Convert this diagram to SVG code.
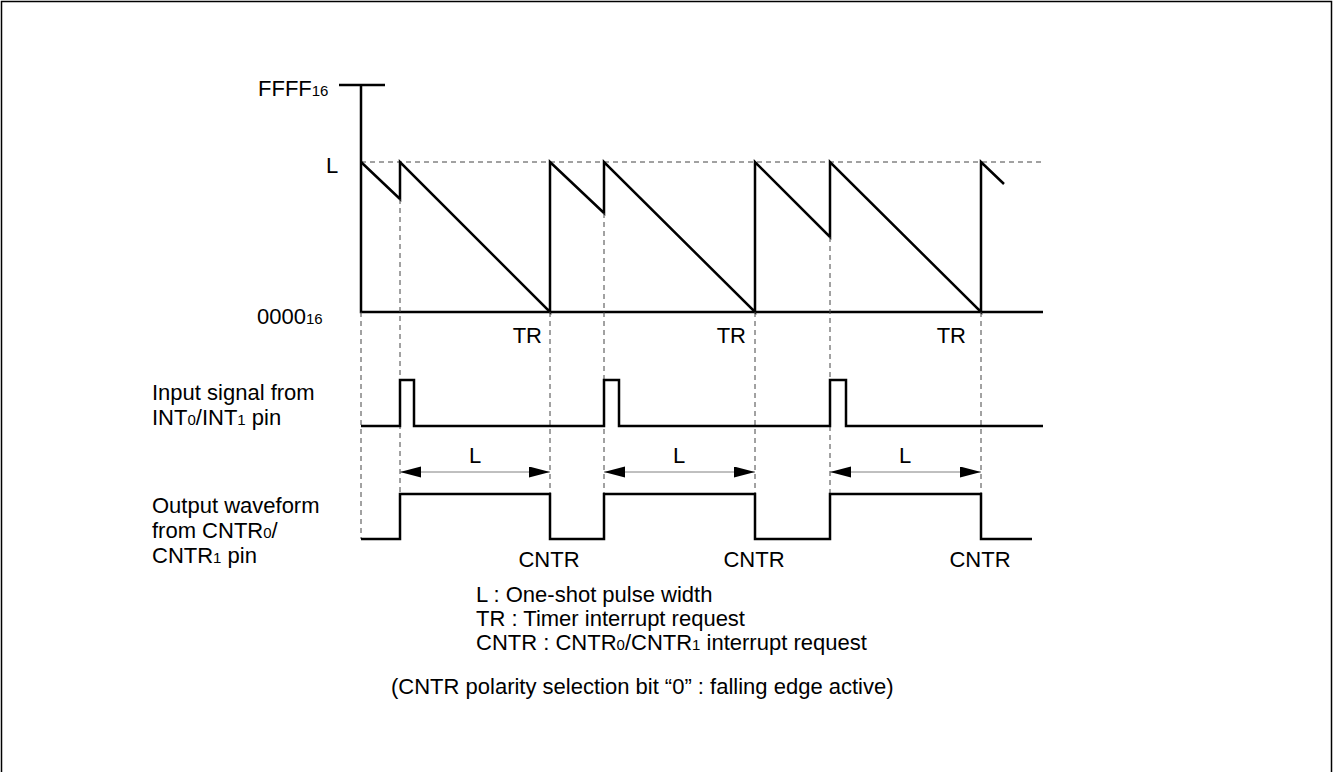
<svg xmlns="http://www.w3.org/2000/svg" width="1334" height="772" viewBox="0 0 1334 772">
<style>
text{font-family:"Liberation Sans",Arial,sans-serif;font-size:22px;fill:#000}
.sub{font-size:15px}
.wave{fill:none;stroke:#000;stroke-width:2.5;stroke-linejoin:miter}
.dash{fill:none;stroke:#444;stroke-width:1;stroke-dasharray:5,4}
.dim{fill:none;stroke:#808080;stroke-width:1}
</style>
<defs>
<marker id="ah" markerUnits="userSpaceOnUse" markerWidth="22" markerHeight="12" refX="21" refY="5.5" orient="auto-start-reverse">
<path d="M0,0 L21,5.5 L0,11 Z" fill="#000"/>
</marker>
</defs>
<rect x="1.5" y="1.5" width="1330" height="776" fill="#fff" stroke="#000" stroke-width="1.5"/>

<g id="counter-graph">
<path class="dash" d="M361,162 H1043"/>
<path class="wave" d="M339,85 H385 M361,85 V312 H1043"/>
<path class="wave" d="M361,162 L400,199 V162 L550,312 V162 L604,213 V162 L755,312 V162 L830,237 V162 L981,312 V162 L1004,184"/>
<text x="258" y="96">FFFF<tspan class="sub">16</tspan></text>
<text x="326" y="173">L</text>
<text x="257" y="324">0000<tspan class="sub">16</tspan></text>
<text x="542" y="343" text-anchor="end">TR</text>
<text x="746" y="343" text-anchor="end">TR</text>
<text x="966" y="343" text-anchor="end">TR</text>
</g>

<g id="connectors">
<path class="dash" d="M361,312 V539 M400,199 V494 M550,312 V494 M604,213 V494 M755,312 V494 M830,237 V494 M981,312 V494"/>
<path class="dim" d="M400,472 H550" marker-start="url(#ah)" marker-end="url(#ah)"/>
<path class="dim" d="M604,472 H755" marker-start="url(#ah)" marker-end="url(#ah)"/>
<path class="dim" d="M830,472 H981" marker-start="url(#ah)" marker-end="url(#ah)"/>
</g>

<g id="input-signal">
<text x="152" y="400">Input signal from</text>
<text x="152" y="425">INT<tspan class="sub">0</tspan>/INT<tspan class="sub">1</tspan> pin</text>
<path class="wave" d="M361,426 H400 V380 H414 V426 H604 V380 H619 V426 H830 V380 H846 V426 H1043"/>
</g>

<g id="pulse-width-labels">
<text x="475" y="463" text-anchor="middle">L</text>
<text x="679" y="463" text-anchor="middle">L</text>
<text x="905" y="463" text-anchor="middle">L</text>
</g>

<g id="output-waveform">
<text x="152" y="513">Output waveform</text>
<text x="152" y="538">from CNTR<tspan class="sub">0</tspan>/</text>
<text x="152" y="563">CNTR<tspan class="sub">1</tspan> pin</text>
<path class="wave" d="M361,539 H400 V494 H550 V539 H604 V494 H755 V539 H830 V494 H981 V539 H1032"/>
<text x="549" y="567" text-anchor="middle">CNTR</text>
<text x="754" y="567" text-anchor="middle">CNTR</text>
<text x="980" y="567" text-anchor="middle">CNTR</text>
</g>

<g id="legend">
<text x="476" y="602">L : One-shot pulse width</text>
<text x="476" y="626">TR : Timer interrupt request</text>
<text x="476" y="650">CNTR : CNTR<tspan class="sub">0</tspan>/CNTR<tspan class="sub">1</tspan> interrupt request</text>
<text x="391" y="694">(CNTR polarity selection bit “0” : falling edge active)</text>
</g>
</svg>
